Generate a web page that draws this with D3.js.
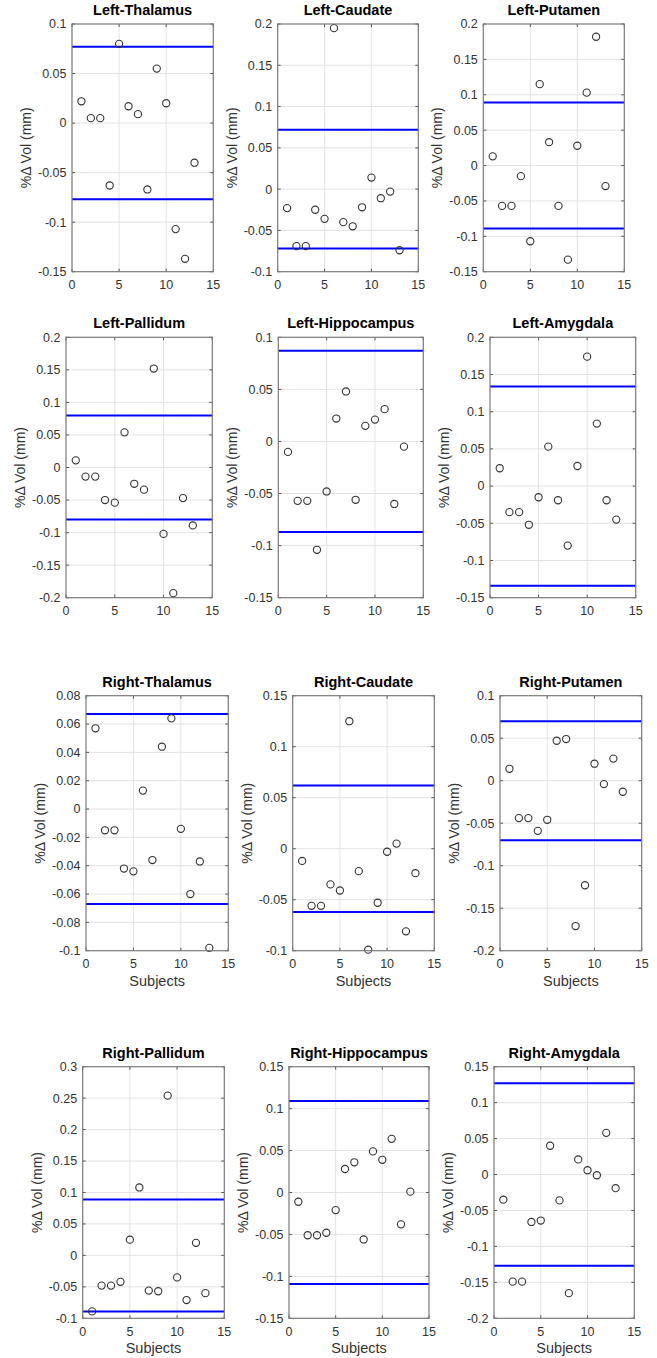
<!DOCTYPE html>
<html>
<head>
<meta charset="utf-8">
<script src="https://cdn.jsdelivr.net/npm/d3@7"></script>
<style>
  html, body { margin: 0; padding: 0; background: #fff; }
  svg { display: block; }
  text { font-family: "Liberation Sans", Arial, Helvetica, sans-serif; }
</style>
</head>
<body>
<svg id="chart" width="657" height="1358"></svg>
<script>
// ---------------- DATA ----------------
const subjects = [1, 2, 3, 4, 5, 6, 7, 8, 9, 10, 11, 12, 13];
const xTicks = [0, 5, 10, 15];
const xDomain = [0, 15];

const panelTitles = [
  "Left-Thalamus", "Left-Caudate", "Left-Putamen",
  "Left-Pallidum", "Left-Hippocampus", "Left-Amygdala",
  "Right-Thalamus", "Right-Caudate", "Right-Putamen",
  "Right-Pallidum", "Right-Hippocampus", "Right-Amygdala"
];

const leftThalamus     = [0.022, 0.005, 0.005, -0.063, 0.080, 0.017, 0.009, -0.067, 0.055, 0.020, -0.107, -0.137, -0.040];
const leftCaudate      = [-0.023, -0.069, -0.069, -0.025, -0.036, 0.195, -0.040, -0.045, -0.022, 0.014, -0.011, -0.003, -0.074];
const leftPutamen      = [0.013, -0.057, -0.057, -0.015, -0.107, 0.115, 0.033, -0.057, -0.133, 0.028, 0.103, 0.182, -0.029];
const leftPallidum     = [0.011, -0.014, -0.014, -0.050, -0.054, 0.054, -0.025, -0.034, 0.152, -0.102, -0.193, -0.047, -0.089];
const leftHippocampus  = [-0.010, -0.057, -0.057, -0.104, -0.048, 0.022, 0.048, -0.056, 0.015, 0.021, 0.031, -0.060, -0.005];
const leftAmygdala     = [0.024, -0.035, -0.035, -0.052, -0.015, 0.053, -0.019, -0.080, 0.027, 0.174, 0.084, -0.019, -0.045];
const rightThalamus    = [0.057, -0.015, -0.015, -0.042, -0.044, 0.013, -0.036, 0.044, 0.064, -0.014, -0.060, -0.037, -0.098];
const rightCaudate     = [-0.012, -0.056, -0.056, -0.035, -0.041, 0.125, -0.022, -0.099, -0.053, -0.003, 0.005, -0.081, -0.024];
const rightPutamen     = [0.014, -0.044, -0.044, -0.059, -0.046, 0.047, 0.049, -0.171, -0.123, 0.020, -0.004, 0.026, -0.013];
const rightPallidum    = [-0.089, -0.048, -0.048, -0.042, 0.025, 0.108, -0.056, -0.057, 0.254, -0.035, -0.071, 0.020, -0.060];
const rightHippocampus = [-0.011, -0.051, -0.051, -0.048, -0.021, 0.028, 0.036, -0.056, 0.049, 0.039, 0.064, -0.038, 0.001];
const rightAmygdala    = [-0.035, -0.149, -0.149, -0.066, -0.064, 0.040, -0.036, -0.165, 0.021, 0.006, -0.001, 0.058, -0.019];

const panelValues = [
  leftThalamus, leftCaudate, leftPutamen,
  leftPallidum, leftHippocampus, leftAmygdala,
  rightThalamus, rightCaudate, rightPutamen,
  rightPallidum, rightHippocampus, rightAmygdala
];

// symmetric limit lines (+/- value)
const limitValues = [0.077, 0.072, 0.089, 0.080, 0.087, 0.134, 0.067, 0.062, 0.070, 0.089, 0.109, 0.127];

const yDomains = [
  [-0.15, 0.1], [-0.1, 0.2], [-0.15, 0.2],
  [-0.2, 0.2], [-0.15, 0.1], [-0.15, 0.2],
  [-0.1, 0.08], [-0.1, 0.15], [-0.2, 0.1],
  [-0.1, 0.3], [-0.15, 0.15], [-0.2, 0.15]
];

const yTicks = [
  [-0.15, -0.1, -0.05, 0, 0.05, 0.1],
  [-0.1, -0.05, 0, 0.05, 0.1, 0.15, 0.2],
  [-0.15, -0.1, -0.05, 0, 0.05, 0.1, 0.15, 0.2],
  [-0.2, -0.15, -0.1, -0.05, 0, 0.05, 0.1, 0.15, 0.2],
  [-0.15, -0.1, -0.05, 0, 0.05, 0.1],
  [-0.15, -0.1, -0.05, 0, 0.05, 0.1, 0.15, 0.2],
  [-0.1, -0.08, -0.06, -0.04, -0.02, 0, 0.02, 0.04, 0.06, 0.08],
  [-0.1, -0.05, 0, 0.05, 0.1, 0.15],
  [-0.2, -0.15, -0.1, -0.05, 0, 0.05, 0.1],
  [-0.1, -0.05, 0, 0.05, 0.1, 0.15, 0.2, 0.25, 0.3],
  [-0.15, -0.1, -0.05, 0, 0.05, 0.1, 0.15],
  [-0.2, -0.15, -0.1, -0.05, 0, 0.05, 0.1, 0.15]
];

const yLabelText = "%\u0394 Vol (mm)";
const xLabelText = "Subjects";

// ---------------- LAYOUT ----------------
const rowTop    = [24, 337.3, 695.7, 1066.7];
const rowBottom = [271.7, 597.7, 950.7, 1318.3];
const colLefts  = [[72, 277.7, 483.3], [66, 278.3, 490], [86, 292.7, 500], [82.7, 289, 494]];
const colRights = [[213.3, 418.3, 624.3], [212.3, 423.3, 635.7], [228.3, 434.3, 641.7], [224.3, 429, 634.3]];

const svg = d3.select("#chart");
const fmt = v => (+v.toFixed(4)).toString();

panelTitles.forEach((title, i) => {
  const r = Math.floor(i / 3), c = i % 3;
  const x0 = colLefts[r][c], x1 = colRights[r][c];
  const y0 = rowTop[r], y1 = rowBottom[r];
  const x = d3.scaleLinear().domain(xDomain).range([x0, x1]);
  const y = d3.scaleLinear().domain(yDomains[i]).range([y1, y0]);
  const g = svg.append("g");
  const tickLen = 3;

  // grid
  g.selectAll(".gx").data(xTicks.slice(1, -1)).join("line")
    .attr("x1", d => x(d)).attr("x2", d => x(d))
    .attr("y1", y0).attr("y2", y1)
    .attr("stroke", "#e3e3e3").attr("stroke-width", 1);
  g.selectAll(".gy").data(yTicks[i].slice(1, -1)).join("line")
    .attr("x1", x0).attr("x2", x1)
    .attr("y1", d => y(d)).attr("y2", d => y(d))
    .attr("stroke", "#e3e3e3").attr("stroke-width", 1);

  // ticks (inward, all four sides)
  const tg = g.append("g").attr("stroke", "#555").attr("stroke-width", 1);
  xTicks.forEach(t => {
    tg.append("line").attr("x1", x(t)).attr("x2", x(t)).attr("y1", y1).attr("y2", y1 - tickLen);
    tg.append("line").attr("x1", x(t)).attr("x2", x(t)).attr("y1", y0).attr("y2", y0 + tickLen);
  });
  yTicks[i].forEach(t => {
    tg.append("line").attr("x1", x0).attr("x2", x0 + tickLen).attr("y1", y(t)).attr("y2", y(t));
    tg.append("line").attr("x1", x1).attr("x2", x1 - tickLen).attr("y1", y(t)).attr("y2", y(t));
  });

  // limit lines
  [limitValues[i], -limitValues[i]].forEach(v => {
    g.append("line")
      .attr("x1", x(xDomain[0])).attr("x2", x(xDomain[1]))
      .attr("y1", y(v)).attr("y2", y(v))
      .attr("stroke", "#0000ff").attr("stroke-width", 2);
  });

  // points
  g.selectAll(".pt").data(subjects.map((s, k) => [s, panelValues[i][k]])).join("circle")
    .attr("cx", d => x(d[0])).attr("cy", d => y(d[1]))
    .attr("r", 3.6)
    .attr("fill", "none").attr("stroke", "#333").attr("stroke-width", 1.1);

  // box
  g.append("rect").attr("x", x0).attr("y", y0)
    .attr("width", x1 - x0).attr("height", y1 - y0)
    .attr("fill", "none").attr("stroke", "#7a7a7a").attr("stroke-width", 1.2);

  // tick labels
  g.selectAll(".xl").data(xTicks).join("text")
    .attr("x", d => x(d)).attr("y", y1 + 17.5)
    .attr("text-anchor", "middle")
    .attr("font-size", 12.5).attr("fill", "#333")
    .text(d => d);
  g.selectAll(".yl").data(yTicks[i]).join("text")
    .attr("x", x0 - 5.5).attr("y", d => y(d))
    .attr("dy", "0.35em")
    .attr("text-anchor", "end")
    .attr("font-size", 12.5).attr("fill", "#333")
    .text(d => fmt(d));

  // title
  g.append("text")
    .attr("x", (x0 + x1) / 2).attr("y", y0 - 9)
    .attr("text-anchor", "middle")
    .attr("font-size", 14.5).attr("font-weight", "bold").attr("fill", "#000")
    .text(title);

  // y label
  const cy = (y0 + y1) / 2, cx = x0 - 46;
  g.append("text")
    .attr("transform", `translate(${cx},${cy}) rotate(-90)`)
    .attr("text-anchor", "middle").attr("dy", "0.35em")
    .attr("font-size", 14).attr("fill", "#333")
    .text(yLabelText);

  // x label (bottom two rows)
  if (r >= 2) {
    g.append("text")
      .attr("x", (x0 + x1) / 2).attr("y", y1 + 35)
      .attr("text-anchor", "middle")
      .attr("font-size", 14.5).attr("fill", "#333")
      .text(xLabelText);
  }
});
</script>
</body>
</html>
